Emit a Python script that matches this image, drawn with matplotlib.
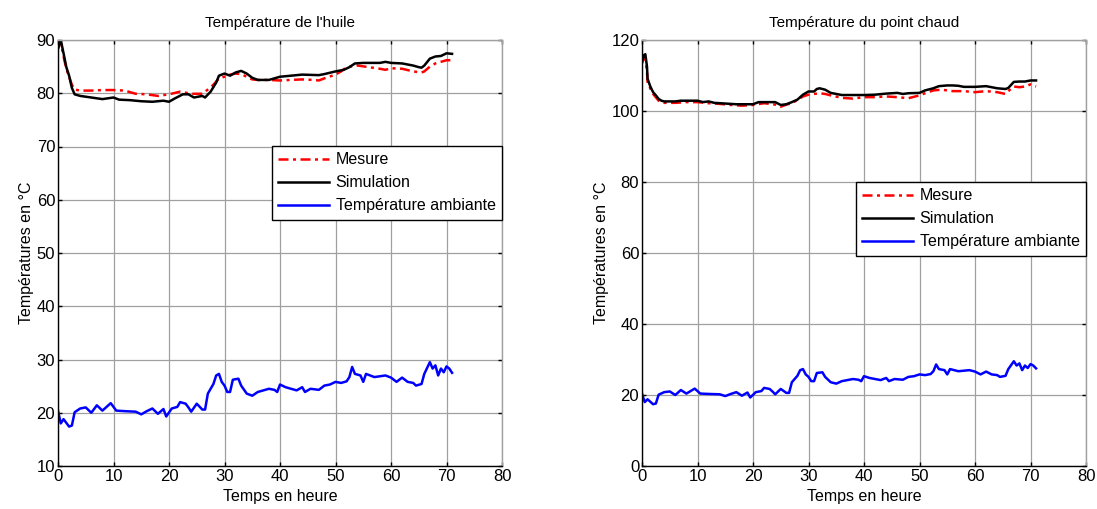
import matplotlib
matplotlib.use("Agg")
import matplotlib.pyplot as plt
import numpy as np

plt.rcParams['font.family'] = ['Liberation Sans', 'DejaVu Sans']

# Ambient temperature (shared)
t_amb = [0, 0.5, 1, 2, 2.5, 3, 4, 5, 6, 7, 8, 9.5, 10.5, 12, 14, 15, 16, 17, 18, 19, 19.5,
         20.5, 21.5, 22, 23, 23.5, 24, 25, 26, 26.5, 27, 28, 28.5, 29, 29.5, 30, 30.5, 31,
         31.5, 32.5, 33, 34, 35, 36, 37, 38, 39, 39.5, 40, 41, 42, 43, 44, 44.5, 45.5, 47,
         48, 49, 50, 51, 52, 52.5, 53, 53.5, 54.5, 55, 55.5, 57, 59, 60, 61, 62, 63, 64,
         64.5, 65.5, 66, 67, 67.5, 68, 68.5, 69, 69.5, 70, 70.5, 71]
T_amb = [20.4, 18, 18.8, 17.4, 17.6, 20.1, 20.8, 21, 20, 21.4, 20.4, 21.8, 20.4, 20.3, 20.2,
         19.7, 20.3, 20.8, 19.8, 20.7, 19.3, 20.8, 21.1, 22, 21.7, 21, 20.2, 21.7, 20.6, 20.6,
         23.6, 25.4, 27, 27.3, 25.8, 25.1, 23.9, 23.9, 26.2, 26.4, 25.1, 23.6, 23.2, 23.9, 24.2,
         24.5, 24.3, 23.9, 25.3, 24.8, 24.5, 24.2, 24.8, 23.9, 24.5, 24.3, 25.1, 25.3, 25.8,
         25.6, 25.9, 26.7, 28.6, 27.3, 27, 25.8, 27.3, 26.7, 27, 26.6, 25.8, 26.6, 25.8, 25.6,
         25.1, 25.4, 27.3, 29.5, 28.3, 28.9, 27, 28.3, 27.6, 28.7, 28.3, 27.5]

# Oil temperature
t_oil_sim = [0, 0.5, 1, 1.5, 2, 2.5, 3, 4, 6, 8, 10, 11, 13, 15, 17, 19, 20, 21, 22.5, 23.5,
             24.5, 26, 26.5, 27.5, 28.5, 29, 30, 31, 32, 33, 34, 35, 36, 38, 39, 40, 42, 44,
             47, 48, 50, 51.5, 52.5, 53.5, 55, 58, 59, 60, 62, 64, 65, 65.5, 66, 67, 68, 69, 70, 71]
T_oil_sim = [88.5, 90, 87.5, 84.9, 83.3, 81, 79.8, 79.5, 79.2, 78.9, 79.2, 78.8, 78.7, 78.5,
             78.4, 78.6, 78.4, 79, 79.8, 79.8, 79.2, 79.5, 79.2, 80.3, 82, 83.3, 83.7, 83.3,
             83.9, 84.2, 83.7, 82.9, 82.5, 82.5, 82.8, 83.1, 83.3, 83.5, 83.4, 83.6, 84.1, 84.4,
             84.9, 85.6, 85.7, 85.7, 85.9, 85.7, 85.6, 85.2, 84.9, 84.8, 85.2, 86.5, 86.9, 87,
             87.5, 87.4]
t_oil_mes = [0, 0.5, 1, 1.5, 2.5, 3, 4, 6, 8, 10, 12, 13, 14, 16, 18, 20, 22, 24, 26, 27, 28,
             29, 30, 31, 32, 33, 34, 35, 36, 38, 40, 42, 44, 46, 47, 48, 50, 51, 52, 54, 56, 58,
             59, 60, 62, 64, 65.5, 66, 67, 68, 69, 70, 71]
T_oil_mes = [88.3, 89.6, 86.9, 84.6, 81.6, 80.7, 80.5, 80.5, 80.6, 80.6, 80.5, 80.2, 79.9, 79.8,
             79.5, 79.8, 80.3, 79.9, 79.9, 80.7, 81.6, 82.8, 83.1, 83.5, 83.7, 83.6, 83.1, 82.6,
             82.5, 82.5, 82.4, 82.5, 82.6, 82.5, 82.4, 82.8, 83.5, 84.1, 84.9, 85.2, 84.9, 84.6,
             84.4, 84.7, 84.6, 84.1, 83.9, 84.1, 85, 85.6, 85.9, 86.2, 86.2]

# Hot-spot temperature
t_hs_sim = [0, 0.3, 0.6, 0.9, 1, 1.5, 2, 2.5, 3, 3.5, 4, 6, 7, 10, 11, 12, 13, 15, 17, 20, 21,
            24, 25, 26, 27, 28, 29, 30, 31, 31.5, 32, 33, 34, 35, 36, 38, 40, 42, 44, 46, 47, 48,
            50, 51, 52.5, 53.5, 55, 56, 57, 58, 60, 62, 63, 64, 65.5, 66, 67, 68, 69, 70, 71]
T_hs_sim = [113.8, 115.7, 116, 112.5, 109.1, 106.9, 105.3, 104.4, 103.4, 102.9, 102.7, 102.7,
            102.9, 102.9, 102.5, 102.7, 102.3, 102.1, 101.9, 101.9, 102.5, 102.5, 101.7, 101.9,
            102.5, 103.2, 104.6, 105.5, 105.5, 106.2, 106.4, 106, 105.1, 104.8, 104.5, 104.5,
            104.5, 104.6, 104.9, 105.1, 104.8, 105, 105.1, 105.8, 106.4, 107, 107.2, 107.2,
            107.1, 106.8, 106.8, 107, 106.7, 106.4, 106.2, 106.5, 108.2, 108.3, 108.3, 108.6, 108.6]
t_hs_mes = [0, 0.3, 0.6, 0.9, 1, 1.5, 2, 3, 3.5, 4, 6, 8, 10, 12, 14, 16, 18, 20, 22, 24, 25,
            26, 27, 28, 29, 30, 32, 33, 34, 36, 38, 40, 42, 44, 46, 48, 50, 51, 52.5, 54, 56, 58,
            60, 62, 64, 65.5, 66, 67, 68, 69, 70, 71]
T_hs_mes = [113.4, 115, 114.7, 111, 108.2, 106.3, 104.8, 102.9, 102.5, 102.3, 102.3, 102.5,
            102.5, 102.2, 102, 101.7, 101.5, 101.7, 102.2, 101.8, 101.2, 101.8, 102.2, 103.1,
            104.1, 104.6, 105, 104.8, 104.4, 103.7, 103.5, 103.9, 103.9, 104.1, 103.9, 103.6,
            104.4, 105, 105.8, 106, 105.6, 105.6, 105.3, 105.6, 105.3, 104.8, 105.6, 106.9,
            106.7, 106.9, 107.5, 106.9]

titles = ["Température de l'huile", "Température du point chaud"]
legend_labels = ["Mesure", "Simulation", "Température ambiante"]

W, H = 1097, 509
fig = plt.figure(figsize=(W / 100, H / 100), dpi=100)

def make_ax(x0, x1, y0, y1):
    return fig.add_axes([x0 / W, (H - y1) / H, (x1 - x0) / W, (y1 - y0) / H])

ax1 = make_ax(58, 502, 40, 466)
ax2 = make_ax(642, 1086, 40, 466)

configs = [
    (ax1, t_oil_mes, T_oil_mes, t_oil_sim, T_oil_sim, (10, 90), np.arange(10, 91, 10), 0.751),
    (ax2, t_hs_mes, T_hs_mes, t_hs_sim, T_hs_sim, (0, 120), np.arange(0, 121, 20), 0.667),
]

for i, (ax, tm, Tm, ts, Ts, ylim, yt, leg_y) in enumerate(configs):
    l1, = ax.plot(tm, Tm, color='red', linestyle=(0, (4, 1.8, 1.2, 1.8)), linewidth=1.8)
    l2, = ax.plot(ts, Ts, color='black', linewidth=1.8)
    l3, = ax.plot(t_amb, T_amb, color='blue', linewidth=1.8)
    ax.set_xlim(0, 80)
    ax.set_ylim(*ylim)
    ax.set_xticks(np.arange(0, 81, 10))
    ax.set_yticks(yt)
    ax.grid(True, color='#a0a0a0', linewidth=0.9, linestyle='-')
    ax.set_axisbelow(True)
    ax.tick_params(direction='in', length=3, width=1, top=True, right=True,
                   labelsize=12, colors='black', pad=2)
    for s in ['left', 'bottom']:
        ax.spines[s].set_color('black')
        ax.spines[s].set_linewidth(1)
    for s in ['top', 'right']:
        ax.spines[s].set_color('#a0a0a0')
        ax.spines[s].set_linewidth(1)
    ax.set_title(titles[i], fontsize=11, pad=9)
    ax.set_xlabel("Temps en heure", fontsize=11.5, labelpad=4)
    ax.set_ylabel("Températures en °C", fontsize=11.5, labelpad=2)
    leg = ax.legend([l1, l2, l3], legend_labels, loc='upper right',
                    bbox_to_anchor=(1.0, leg_y), fontsize=11.5, frameon=True,
                    fancybox=False, framealpha=1, edgecolor='black',
                    handlelength=3.2, handletextpad=0.4, borderpad=0.4,
                    labelspacing=0.5, borderaxespad=0)
    leg.get_frame().set_linewidth(1)

fig.savefig("out.png", dpi=100)
